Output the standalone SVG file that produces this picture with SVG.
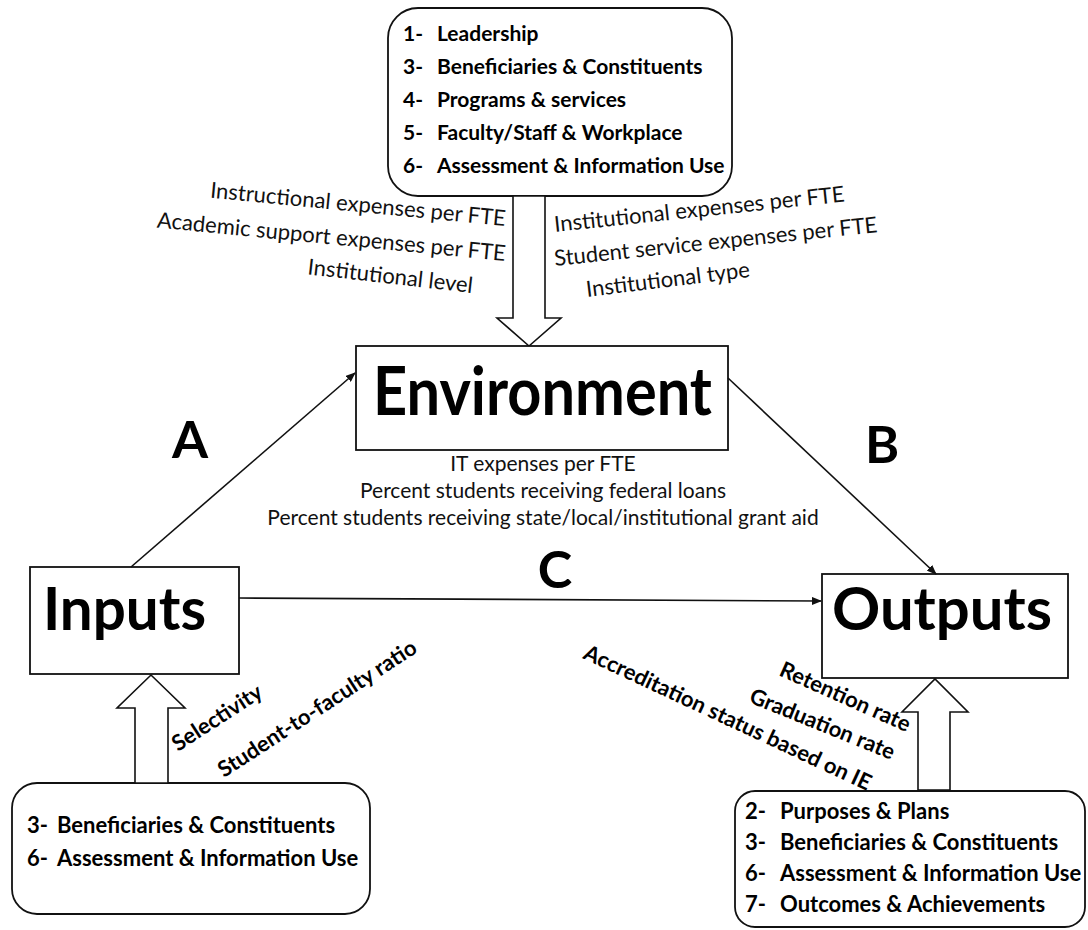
<svg xmlns="http://www.w3.org/2000/svg" width="1088" height="930" viewBox="0 0 1088 930">
<style>
.box{fill:#fff;stroke:#111;stroke-width:1.8}
.big{font-family:Lato,"Open Sans","Liberation Sans",sans-serif;font-weight:bold;fill:#000}
.item{font-family:Lato,"Open Sans","Liberation Sans",sans-serif;font-weight:bold;font-size:21px;fill:#000}
.itemb{font-family:Lato,"Open Sans","Liberation Sans",sans-serif;font-weight:bold;font-size:22px;fill:#000}
.lbl{font-family:Lato,"Open Sans","Liberation Sans",sans-serif;font-size:22px;fill:#111}
.ctr{font-family:Lato,"Open Sans","Liberation Sans",sans-serif;font-size:21px;fill:#111}
.lblb{font-family:Lato,"Open Sans","Liberation Sans",sans-serif;font-weight:bold;font-size:22px;fill:#000}
.conn{stroke:#111;stroke-width:1.6;fill:none}
.harrow{fill:#fff;stroke:#111;stroke-width:1.6}
</style>
<defs>
<marker id="ah" markerWidth="10" markerHeight="8" refX="9" refY="4" orient="auto" markerUnits="userSpaceOnUse">
<path d="M0,0 L10,4 L0,8 Z" fill="#111"/>
</marker>
</defs>
<rect width="1088" height="930" fill="#fff"/>

<g id="top-criteria">
<rect class="box" x="388" y="8" width="344" height="188" rx="30"/>
<text class="item" x="403" y="41">1-</text><text class="item" x="437" y="41">Leadership</text>
<text class="item" x="403" y="74">3-</text><text class="item" x="437" y="74">Beneficiaries &amp; Constituents</text>
<text class="item" x="403" y="107">4-</text><text class="item" x="437" y="107">Programs &amp; services</text>
<text class="item" x="403" y="140">5-</text><text class="item" x="437" y="140">Faculty/Staff &amp; Workplace</text>
<text class="item" x="403" y="173">6-</text><text class="item" x="437" y="173">Assessment &amp; Information Use</text>
<polygon class="harrow" points="513,196 545,196 545,318 561,318 529,346 497,318 513,318"/>
</g>

<g id="environment">
<rect class="box" x="356" y="346" width="372" height="104"/>
<text class="big" x="373" y="415" font-size="66" textLength="339" lengthAdjust="spacingAndGlyphs">Environment</text>
</g>

<g id="inputs">
<rect class="box" x="30" y="567" width="209" height="107"/>
<text class="big" x="43" y="630" font-size="60" textLength="163" lengthAdjust="spacingAndGlyphs">Inputs</text>
</g>

<g id="outputs">
<rect class="box" x="822" y="574" width="246" height="104"/>
<text class="big" x="832" y="630" font-size="60" textLength="220" lengthAdjust="spacingAndGlyphs">Outputs</text>
</g>

<g id="input-criteria">
<rect class="box" x="12" y="783" width="358" height="131" rx="25"/>
<text class="itemb" x="27" y="833">3-</text><text class="itemb" x="57" y="833">Beneficiaries &amp; Constituents</text>
<text class="itemb" x="27" y="866">6-</text><text class="itemb" x="57" y="866">Assessment &amp; Information Use</text>
<polygon class="harrow" points="135,783 135,708 117,708 151,675 185,708 168,708 168,783"/>
</g>

<g id="output-criteria">
<rect class="box" x="735" y="791" width="350" height="136" rx="20"/>
<text class="itemb" x="745" y="819">2-</text><text class="itemb" x="780" y="819">Purposes &amp; Plans</text>
<text class="itemb" x="745" y="850">3-</text><text class="itemb" x="780" y="850">Beneficiaries &amp; Constituents</text>
<text class="itemb" x="745" y="881">6-</text><text class="itemb" x="780" y="881">Assessment &amp; Information Use</text>
<text class="itemb" x="745" y="912">7-</text><text class="itemb" x="780" y="912">Outcomes &amp; Achievements</text>
<polygon class="harrow" points="918,790 918,712 902,712 935,679 968,712 950,712 950,790"/>
</g>

<g id="connectors">
<line class="conn" x1="131" y1="567" x2="355" y2="373" marker-end="url(#ah)"/>
<line class="conn" x1="728" y1="378" x2="936" y2="574" marker-end="url(#ah)"/>
<line class="conn" x1="239" y1="598" x2="821" y2="601" marker-end="url(#ah)"/>
</g>

<g id="labels">
<text class="big" x="190" y="458" font-size="52" text-anchor="middle">A</text>
<text class="big" x="882" y="463" font-size="52" text-anchor="middle">B</text>
<text class="big" x="555" y="588" font-size="52" text-anchor="middle">C</text>

<text class="lbl" text-anchor="end" transform="translate(505,226) rotate(5.5)">Instructional expenses per FTE</text>
<text class="lbl" text-anchor="end" transform="translate(505,261) rotate(5.5)">Academic support expenses per FTE</text>
<text class="lbl" text-anchor="end" transform="translate(472,293) rotate(6.5)">Institutional level</text>

<text class="lbl" transform="translate(555,232) rotate(-6)">Institutional expenses per FTE</text>
<text class="lbl" transform="translate(555,266) rotate(-6)">Student service expenses per FTE</text>
<text class="lbl" transform="translate(587,297) rotate(-7)">Institutional type</text>

<text class="ctr" x="543" y="471" text-anchor="middle">IT expenses per FTE</text>
<text class="ctr" x="543" y="498" text-anchor="middle">Percent students receiving federal loans</text>
<text class="ctr" x="543" y="525" text-anchor="middle">Percent students receiving state/local/institutional grant aid</text>

<text class="lblb" transform="translate(178,752) rotate(-33)">Selectivity</text>
<text class="lblb" transform="translate(224,778) rotate(-33)">Student-to-faculty ratio</text>

<text class="lblb" transform="translate(582,658) rotate(25)">Accreditation status based on IE</text>
<text class="lblb" transform="translate(748,702) rotate(22)">Graduation rate</text>
<text class="lblb" transform="translate(778,675) rotate(24)">Retention rate</text>
</g>
</svg>
